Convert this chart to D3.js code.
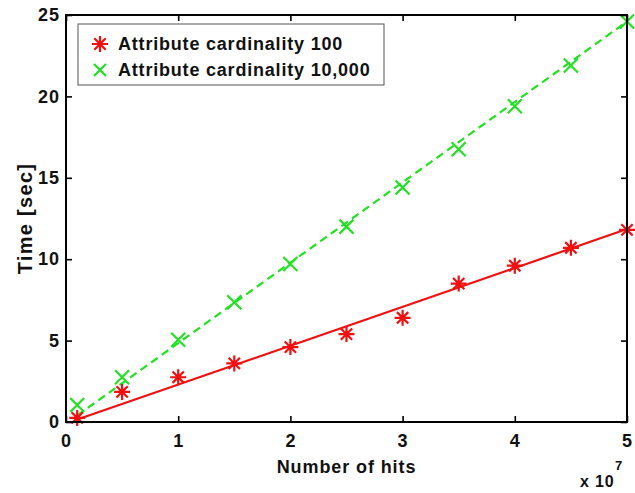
<!DOCTYPE html>
<html>
<head>
<meta charset="utf-8">
<script src="https://cdn.jsdelivr.net/npm/d3@7"></script>
<style>
  body { margin: 0; background: #fff; }
  svg text { font-family: "Liberation Sans", Arial, sans-serif; font-weight: bold; }
</style>
</head>
<body>
<div id="chart"></div>
<script>
// number of hits (x 10^7)
var hits = [0.1, 0.5, 1, 1.5, 2, 2.5, 3, 3.5, 4, 4.5, 5];
// measured times in seconds
var card100 = [0.25, 1.85, 2.75, 3.6, 4.6, 5.4, 6.4, 8.5, 9.6, 10.7, 11.8];
var card10000 = [1.05, 2.75, 5.05, 7.35, 9.7, 12.0, 14.4, 16.75, 19.4, 21.9, 24.6];
// fitted lines, values at first and last hit count
var fitHits = [0.1, 5];
var fit100 = [0.15, 11.85];
var fit10000 = [0.4, 24.6];
var xTicks = [0, 1, 2, 3, 4, 5];
var yTicks = [0, 5, 10, 15, 20, 25];
var seriesNames = ["Attribute cardinality 100", "Attribute cardinality 10,000"];

var width = 635, height = 493;
var margin = {top: 15, right: 8, bottom: 71, left: 66};
var w = width - margin.left - margin.right,
    h = height - margin.top - margin.bottom;

var red = "#f01010", green = "#22e022";

var svg = d3.select("#chart").append("svg")
  .attr("width", width)
  .attr("height", height);

var g = svg.append("g")
  .attr("transform", "translate(" + margin.left + "," + margin.top + ")");

var x = d3.scaleLinear().domain([0, 5]).range([0, w]);
var y = d3.scaleLinear().domain([0, 25]).range([h, 0]);

// fit lines
var line = d3.line()
  .x(function(d) { return x(d[0]); })
  .y(function(d) { return y(d[1]); });

g.append("path")
  .attr("d", line(d3.zip(fitHits, fit100)))
  .attr("fill", "none")
  .attr("stroke", red)
  .attr("stroke-width", 2.2);

g.append("path")
  .attr("d", line(d3.zip(fitHits, fit10000)))
  .attr("fill", "none")
  .attr("stroke", green)
  .attr("stroke-width", 2.2)
  .attr("stroke-dasharray", "8,5");

// markers
function star(sel, r) {
  var p = "";
  [0, 45, 90, 135].forEach(function(a) {
    var rad = a * Math.PI / 180, dx = r * Math.sin(rad), dy = r * Math.cos(rad);
    p += "M" + (-dx) + "," + (-dy) + "L" + dx + "," + dy;
  });
  sel.append("path").attr("d", p);
}
function cross(sel, r) {
  sel.append("path").attr("d", "M" + (-r) + "," + (-r) + "L" + r + "," + r + "M" + (-r) + "," + r + "L" + r + "," + (-r));
}

g.selectAll(".m100")
  .data(d3.zip(hits, card100))
  .enter().append("g")
  .attr("class", "m100")
  .attr("transform", function(d) { return "translate(" + x(d[0]) + "," + y(d[1]) + ")"; })
  .attr("stroke", red)
  .attr("stroke-width", 2.2)
  .each(function() { star(d3.select(this), 8); });

g.selectAll(".m10000")
  .data(d3.zip(hits, card10000))
  .enter().append("g")
  .attr("class", "m10000")
  .attr("transform", function(d) { return "translate(" + x(d[0]) + "," + y(d[1]) + ")"; })
  .attr("stroke", green)
  .attr("stroke-width", 2.2)
  .each(function() { cross(d3.select(this), 7); });

// axes, ticks drawn inward on all four sides
var fmt = d3.format("d");
var tickLen = 6;
g.append("g").attr("transform", "translate(0," + h + ")")
  .call(d3.axisBottom(x).tickValues(xTicks).tickSize(-tickLen).tickPadding(12).tickFormat(fmt));
g.append("g")
  .call(d3.axisTop(x).tickValues(xTicks).tickSize(-tickLen).tickFormat(""));
g.append("g")
  .call(d3.axisLeft(y).tickValues(yTicks).tickSize(-tickLen).tickPadding(6).tickFormat(fmt));
g.append("g").attr("transform", "translate(" + w + ",0)")
  .call(d3.axisRight(y).tickValues(yTicks).tickSize(-tickLen).tickFormat(""));

g.selectAll(".domain").remove();
g.selectAll(".tick line").attr("stroke", "#000").attr("stroke-width", 1.6);
g.selectAll(".tick text").attr("font-size", 18).attr("letter-spacing", 1).attr("fill", "#111");

g.append("rect")
  .attr("width", w).attr("height", h)
  .attr("fill", "none")
  .attr("stroke", "#000")
  .attr("stroke-width", 2);

// axis labels
svg.append("text")
  .attr("x", margin.left + w / 2)
  .attr("y", 473)
  .attr("text-anchor", "middle")
  .attr("font-size", 18)
  .attr("letter-spacing", 0.9)
  .attr("fill", "#111")
  .text("Number of hits");

svg.append("text")
  .attr("transform", "translate(32," + (margin.top + h / 2) + ") rotate(-90)")
  .attr("text-anchor", "middle")
  .attr("font-size", 20)
  .attr("letter-spacing", 1.3)
  .attr("fill", "#111")
  .text("Time [sec]");

svg.append("text")
  .attr("x", 580)
  .attr("y", 487)
  .attr("font-size", 16)
  .attr("letter-spacing", 0.8)
  .attr("fill", "#111")
  .text("x 10");
svg.append("text").attr("x", 615).attr("y", 470).attr("font-size", 13).attr("fill", "#111").text("7");

// legend
var leg = svg.append("g").attr("transform", "translate(78,24)");
leg.append("rect")
  .attr("width", 306).attr("height", 61)
  .attr("fill", "#fff")
  .attr("stroke", "#555")
  .attr("stroke-width", 1);

var li = leg.selectAll(".li")
  .data(seriesNames)
  .enter().append("g")
  .attr("transform", function(d, i) { return "translate(22," + (20 + i * 26) + ")"; });

li.append("g")
  .attr("stroke", function(d, i) { return i ? green : red; })
  .attr("stroke-width", 2.2)
  .each(function(d, i) {
    if (i) cross(d3.select(this), 6); else star(d3.select(this), 8);
  });

li.append("text")
  .attr("x", 18)
  .attr("dy", "0.36em")
  .attr("font-size", 18)
  .attr("letter-spacing", 0.8)
  .attr("fill", "#111")
  .text(function(d) { return d; });
</script>
</body>
</html>
